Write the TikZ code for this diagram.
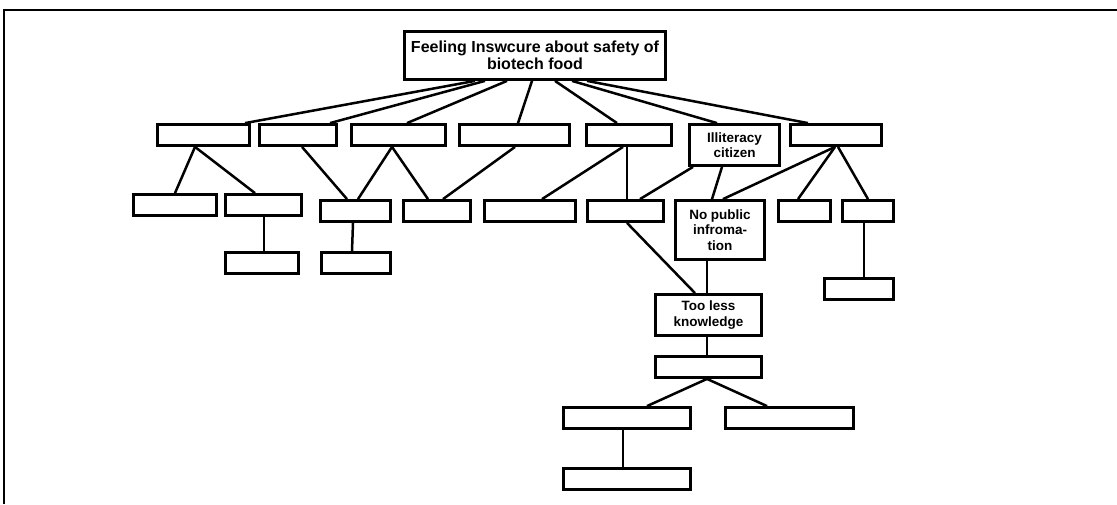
\documentclass[tikz,border=0pt]{standalone}
\usepackage{fontspec}
\setmainfont{Liberation Sans}
\tikzset{
	blk/.style={draw, line width=2.8pt, inner sep=2pt, align=center,
		font=\fontsize{13.5}{15.3}\selectfont\bfseries},
	wire/.style={line width=2.5pt},
	frameline/.style={line width=2pt}
}
% box from (x1,y1) to (x2,y2), measured on the outer edge
\def\boxnode[#1](#2)(#3,#4,#5,#6)#7{\node[blk, #1, minimum width={#5-#3-3}, minimum height={#6-#4-3}] (#2) at ({(#3+#5)/2},{(#4+#6)/2}) {#7};}

\begin{document}
\begin{tikzpicture}[x=1pt, y=-1pt]
		%%%%% START %%%%%
		\useasboundingbox (0,0) rectangle (1117,504);
		\draw[frameline] (4,504) -- (4,10) -- (1117,10);
		
		% top
		\boxnode[font=\fontsize{16}{17}\selectfont\bfseries](root)(403,30,667,81){Feeling Inswcure about safety of\\biotech food}
		
		% first row
		\boxnode[](b1)(156,123,251,147){}
		\boxnode[](b2)(258,123,338,147){}
		\boxnode[](b3)(350,123,447,147){}
		\boxnode[](b4)(458,123,571,147){}
		\boxnode[](b5)(585,123,673,147){}
		\boxnode[](b6)(688,123,781,167){Illiteracy\\citizen}
		\boxnode[](b7)(789,123,883,147){}
		
		% second row
		\boxnode[](c1)(132,193,218,217){}
		\boxnode[](c2)(224,193,303,217){}
		\boxnode[](c3)(319,199,392,223){}
		\boxnode[](c4)(402,199,472,223){}
		\boxnode[](c5)(483,199,577,223){}
		\boxnode[](c6)(586,199,665,223){}
		\boxnode[](c7)(674,199,766,261){No public\\infroma-\\tion}
		\boxnode[](c8)(777,199,832,223){}
		\boxnode[](c9)(841,199,895,223){}
		
		% lower boxes
		\boxnode[](d2)(224,251,300,275){}
		\boxnode[](d3)(320,251,392,275){}
		\boxnode[](d9)(823,277,895,301){}
		\boxnode[](tl)(654,293,763,337){Too less\\knowledge}
		\boxnode[](e1)(654,355,763,379){}
		\boxnode[](f1)(562,406,692,430){}
		\boxnode[](f2)(724,406,855,430){}
		\boxnode[](g1)(562,467,692,491){}
		
		% top to first row
		\draw[wire] (root.south -| 475,0) -- (b1.north -| 245,0);
		\draw[wire] (root.south -| 485,0) -- (b2.north -| 330,0);
		\draw[wire] (root.south -| 507,0) -- (b3.north -| 407,0);
		\draw[wire] (root.south -| 532,0) -- (b4.north -| 518,0);
		\draw[wire] (root.south -| 555,0) -- (b5.north -| 617,0);
		\draw[wire] (root.south -| 572,0) -- (b6.north -| 717,0);
		\draw[wire] (root.south -| 587,0) -- (b7.north -| 808,0);
		
		% first row to second row
		\draw[wire] (b1.south -| 195,0) -- (c1.north -| 175,0);
		\draw[wire] (b1.south -| 195,0) -- (c2.north -| 255,0);
		\draw[wire] (b2.south -| 302,0) -- (c3.north -| 347,0);
		\draw[wire] (b3.south -| 392,0) -- (c3.north -| 358,0);
		\draw[wire] (b3.south -| 392,0) -- (c4.north -| 428,0);
		\draw[wire] (b4.south -| 515,0) -- (c4.north -| 443,0);
		\draw[wire] (b5.south -| 623,0) -- (c5.north -| 542,0);
		\draw[wire] (b5.south -| 627,0) -- (c6.north -| 627,0);
		\draw[wire] (b6.south -| 693,0) -- (c6.north -| 640,0);
		\draw[wire] (b6.south -| 722,0) -- (c7.north -| 712,0);
		\draw[wire] (b7.south -| 835,0) -- (c7.north -| 723,0);
		\draw[wire] (b7.south -| 835,0) -- (c8.north -| 798,0);
		\draw[wire] (b7.south -| 838,0) -- (c9.north -| 868,0);
		
		% further down
		\draw[wire] (c2.south -| 264,0) -- (d2.north -| 264,0);
		\draw[wire] (c3.south -| 353,0) -- (d3.north -| 352,0);
		\draw[wire] (c6.south -| 627,0) -- (tl.north -| 695,0);
		\draw[wire] (c7.south -| 707,0) -- (tl.north -| 707,0);
		\draw[wire] (c9.south -| 864,0) -- (d9.north -| 864,0);
		\draw[wire] (tl.south -| 707,0) -- (e1.north -| 707,0);
		\draw[wire] (e1.south -| 707,0) -- (f1.north -| 647,0);
		\draw[wire] (e1.south -| 707,0) -- (f2.north -| 767,0);
		\draw[wire] (f1.south -| 623,0) -- (g1.north -| 623,0);
		
		%%%%% END %%%%%
\end{tikzpicture}
\end{document}
